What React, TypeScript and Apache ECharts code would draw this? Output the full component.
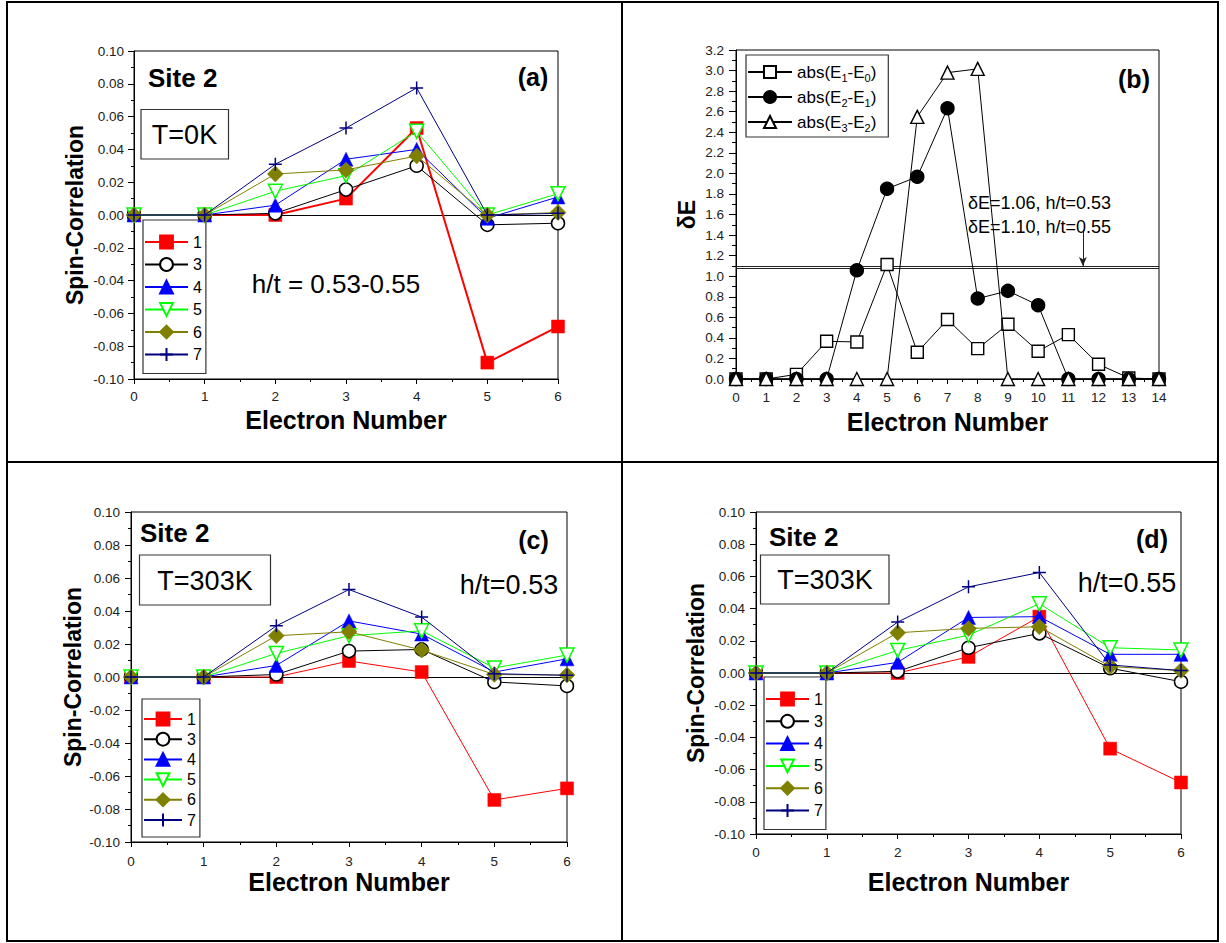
import React, { useEffect, useRef } from 'react';
import * as echarts from 'echarts';

const FONT = '"Liberation Sans", Arial, Helvetica, sans-serif';

// ---------- data ----------
const electrons = [0, 1, 2, 3, 4, 5, 6];
const siteNames = ['1', '3', '4', '5', '6', '7'];

// panel (a) T=0K
const a1 = [0, 0, 0, 0.010, 0.053, -0.090, -0.068];
const a3 = [0, 0, 0.001, 0.0155, 0.030, -0.006, -0.005];
const a4 = [0, 0, 0.006, 0.034, 0.040, -0.002, 0.011];
const a5 = [0, 0, 0.0145, 0.024, 0.051, 0.000, 0.013];
const a6 = [0, 0, 0.025, 0.0275, 0.036, 0.000, 0.0015];
const a7 = [0, 0, 0.031, 0.053, 0.0775, 0.000, 0.001];

// panel (c) T=303K h/t=0.53
const c1 = [0, 0, 0, 0.0097, 0.003, -0.0745, -0.0675];
const c3 = [0, 0, 0.0015, 0.0157, 0.0167, -0.003, -0.0054];
const c4 = [0, 0, 0.007, 0.034, 0.026, 0.003, 0.011];
const c5 = [0, 0, 0.0143, 0.025, 0.028, 0.0055, 0.0133];
const c6 = [0, 0, 0.025, 0.0274, 0.0163, 0.0015, 0.0012];
const c7 = [0, 0, 0.031, 0.053, 0.0363, 0.002, 0.001];

// panel (d) T=303K h/t=0.55
const d1 = [0, 0, 0, 0.010, 0.035, -0.047, -0.068];
const d3 = [0, 0, 0.001, 0.0157, 0.0246, 0.003, -0.0054];
const d4 = [0, 0, 0.0066, 0.0345, 0.035, 0.0116, 0.0116];
const d5 = [0, 0, 0.014, 0.0235, 0.043, 0.0157, 0.0143];
const d6 = [0, 0, 0.025, 0.0277, 0.0287, 0.004, 0.0015];
const d7 = [0, 0, 0.0316, 0.0535, 0.0624, 0.005, 0.0015];

// panel (b) energy gaps
const electronsB = [0, 1, 2, 3, 4, 5, 6, 7, 8, 9, 10, 11, 12, 13, 14];
const gapNames = ['abs(E1-E0)', 'abs(E2-E1)', 'abs(E3-E2)'];
const gapE10 = [0, 0, 0.045, 0.367, 0.36, 1.113, 0.26, 0.578, 0.295, 0.532, 0.27, 0.432, 0.143, 0.01, 0];
const gapE21 = [0, 0, 0, 0, 1.058, 1.85, 1.967, 2.633, 0.782, 0.857, 0.718, 0, 0, 0, 0];
const gapE32 = [0, 0, 0, 0, 0, 0, 2.55, 2.98, 3.016, 0, 0, 0, 0, 0, 0];
const deltaLines = [1.08, 1.10];
const arrowX = 11.48;
const arrowFrom = 1.45;
const arrowTo = 1.10;

// ---------- styles ----------
const siteStyle = [
  { color: '#ff0000', symbol: 'rect', fill: '#ff0000', size: 13, bw: 0.5, rotate: 0 },
  { color: '#000000', symbol: 'circle', fill: '#ffffff', size: 13, bw: 1.5, rotate: 0 },
  { color: '#0000ff', symbol: 'triangle', fill: '#0000ff', size: 14, bw: 0.5, rotate: 0 },
  { color: '#00ff00', symbol: 'triangle', fill: '#ffffff', size: 14, bw: 1.5, rotate: 180 },
  { color: '#808000', symbol: 'diamond', fill: '#808000', size: 16, bw: 0.5, rotate: 0 },
  { color: '#000080', symbol: 'path://M5,0L5,10M0,5L10,5', fill: '#000080', size: 13, bw: 1.5, rotate: 0 },
];

const fmt2 = (v: number) => (Math.abs(v) < 1e-9 ? '0.00' : v.toFixed(2));
const fmt1 = (v: number) => (Math.abs(v) < 1e-9 ? '0.0' : v.toFixed(1));

function spinSeries(idx: number, sets: number[][], redWidth: number) {
  return sets.map((vals, k) => {
    const st = siteStyle[k];
    const s: any = {
      type: 'line',
      name: siteNames[k],
      xAxisIndex: idx,
      yAxisIndex: idx,
      data: electrons.map((x, i) => [x, vals[i]]),
      symbol: st.symbol,
      symbolSize: st.size,
      symbolRotate: st.rotate,
      lineStyle: { color: st.color, width: k === 0 ? redWidth : 1 },
      itemStyle: { color: st.fill, borderColor: st.color, borderWidth: st.bw },
      clip: false,
      silent: true,
      z: 3 + k,
    };
    if (k === 0) {
      s.markLine = {
        silent: true,
        symbol: 'none',
        label: { show: false },
        lineStyle: { color: '#000', width: 1, type: 'solid' },
        data: [{ yAxis: 0 }],
        z: 1,
      };
    }
    return s;
  });
}

function spinX(idx: number, margin: number, nameGap: number) {
  return {
    type: 'value', gridIndex: idx, min: 0, max: 6, interval: 1,
    axisLine: { onZero: false, lineStyle: { color: '#000', width: 1 } },
    axisTick: { show: true, length: 5, lineStyle: { color: '#000' } },
    minorTick: { show: true, splitNumber: 2, length: 3, lineStyle: { color: '#000' } },
    splitLine: { show: false },
    axisLabel: { fontSize: 13.5, color: '#222', margin, fontFamily: FONT },
    name: 'Electron Number', nameLocation: 'middle', nameGap,
    nameTextStyle: { fontSize: 25, fontWeight: 'bold', color: '#000', fontFamily: FONT },
  };
}

function spinY(idx: number, margin: number, nameGap: number) {
  return {
    type: 'value', gridIndex: idx, min: -0.1, max: 0.1, interval: 0.02,
    axisLine: { onZero: false, lineStyle: { color: '#000', width: 1 } },
    axisTick: { show: true, length: 6, lineStyle: { color: '#000' } },
    minorTick: { show: true, splitNumber: 2, length: 3, lineStyle: { color: '#000' } },
    splitLine: { show: false },
    axisLabel: { fontSize: 13.5, color: '#222', margin, fontFamily: FONT, formatter: fmt2 },
    name: 'Spin-Correlation', nameLocation: 'middle', nameGap, nameRotate: 90,
    nameTextStyle: { fontSize: 23, fontWeight: 'bold', color: '#000', fontFamily: FONT },
  };
}

function spinLegend(left: number, top: number, padding: number[], itemWidth: number, itemGap: number) {
  return {
    data: siteNames, orient: 'vertical', left, top, padding, itemWidth, itemHeight: 16, itemGap,
    borderColor: '#333', borderWidth: 1.2, backgroundColor: '#fff', selectedMode: false,
    textStyle: { fontSize: 16, color: '#000', fontFamily: FONT },
  };
}

function txt(text: string, x: number, y: number, size: number, bold: boolean, align = 'left') {
  return {
    type: 'text', x, y, silent: true, z: 100,
    style: {
      text, fill: '#000', font: `${bold ? 'bold ' : ''}${size}px ${FONT}`,
      textAlign: align, textVerticalAlign: 'middle',
    },
  };
}

function box(x: number, y: number, w: number, h: number) {
  return {
    type: 'rect', silent: true, z: 99,
    shape: { x, y, width: w, height: h },
    style: { fill: '#fff', stroke: '#333', lineWidth: 1.2 },
  };
}

function buildOption() {
  const gridBase = { show: true, borderColor: '#000', borderWidth: 1, backgroundColor: 'transparent' };
  const bStyles = [
    { symbol: 'rect', fill: '#ffffff', size: 12 },
    { symbol: 'circle', fill: '#000000', size: 13 },
    { symbol: 'triangle', fill: '#ffffff', size: 13 },
  ];
  const gapSets = [gapE10, gapE21, gapE32];
  const bSeries = gapSets.map((vals, k) => {
    const s: any = {
      type: 'line', name: gapNames[k], xAxisIndex: 1, yAxisIndex: 1,
      data: electronsB.map((x, i) => [x, vals[i]]),
      symbol: bStyles[k].symbol, symbolSize: bStyles[k].size,
      lineStyle: { color: '#000', width: 1 },
      itemStyle: { color: bStyles[k].fill, borderColor: '#000', borderWidth: 1.4 },
      clip: false, silent: true, z: 3 + k,
    };
    if (k === 0) {
      s.markLine = {
        silent: true,
        symbol: 'none',
        label: { show: false },
        lineStyle: { color: '#222', width: 1, type: 'solid' },
        z: 1,
        data: [
          ...deltaLines.map((v) => ({ yAxis: v })),
          [
            { coord: [arrowX, arrowFrom], symbol: 'none' },
            { coord: [arrowX, arrowTo], symbol: 'arrow', symbolSize: [6, 9] },
          ],
        ],
      };
    }
    return s;
  });

  return {
    animation: false,
    backgroundColor: '#fff',
    textStyle: { fontFamily: FONT },
    grid: [
      { ...gridBase, left: 134, top: 51, width: 424, height: 328 },
      { ...gridBase, left: 736, top: 50, width: 423, height: 329 },
      { ...gridBase, left: 131, top: 512, width: 436, height: 330 },
      { ...gridBase, left: 756, top: 512, width: 425, height: 322 },
    ],
    xAxis: [
      spinX(0, 10, 28),
      {
        type: 'value', gridIndex: 1, min: 0, max: 14, interval: 1,
        axisLine: { onZero: false, lineStyle: { color: '#000', width: 1 } },
        axisTick: { show: true, length: 5, lineStyle: { color: '#000' } },
        minorTick: { show: true, splitNumber: 2, length: 3, lineStyle: { color: '#000' } },
        splitLine: { show: false },
        axisLabel: { fontSize: 13.5, color: '#222', margin: 11, fontFamily: FONT },
        name: 'Electron Number', nameLocation: 'middle', nameGap: 30,
        nameTextStyle: { fontSize: 25, fontWeight: 'bold', color: '#000', fontFamily: FONT },
      },
      spinX(2, 12, 27),
      spinX(3, 11, 35),
    ],
    yAxis: [
      spinY(0, 10, 48),
      {
        type: 'value', gridIndex: 1, min: 0, max: 3.2, interval: 0.2,
        axisLine: { onZero: false, lineStyle: { color: '#000', width: 1 } },
        axisTick: { show: true, length: 7, lineStyle: { color: '#000' } },
        minorTick: { show: true, splitNumber: 2, length: 4, lineStyle: { color: '#000' } },
        splitLine: { show: false },
        axisLabel: { fontSize: 13.5, color: '#222', margin: 12, fontFamily: FONT, formatter: fmt1 },
        name: 'δE', nameLocation: 'middle', nameGap: 38, nameRotate: 90,
        nameTextStyle: { fontSize: 23, fontWeight: 'bold', color: '#000', fontFamily: FONT },
      },
      spinY(2, 11, 47),
      spinY(3, 11, 49),
    ],
    legend: [
      spinLegend(143, 220, [14, 4, 11, 1], 43, 6.5),
      {
        data: gapNames, orient: 'vertical', left: 746, top: 55, padding: [6, 12, 4, 1],
        itemWidth: 44, itemHeight: 15, itemGap: 3, selectedMode: false,
        borderColor: '#333', borderWidth: 1.2, backgroundColor: '#fff',
        formatter: (name: string) => name.replace(/E(\d)/g, 'E{s|$1}'),
        textStyle: {
          fontSize: 17, lineHeight: 22, color: '#000', fontFamily: FONT,
          rich: { s: { fontSize: 11, lineHeight: 11, verticalAlign: 'bottom', color: '#000', fontFamily: FONT } },
        },
      },
      spinLegend(142, 699, [12, 4, 9, 1], 38, 4.2),
      spinLegend(764, 677, [14, 3, 11, 1], 43, 6.3),
    ],
    series: [
      ...spinSeries(0, [a1, a3, a4, a5, a6, a7], 2),
      ...bSeries,
      ...spinSeries(2, [c1, c3, c4, c5, c6, c7], 1),
      ...spinSeries(3, [d1, d3, d4, d5, d6, d7], 1),
    ],
    graphic: [
      { type: 'rect', silent: true, z: 50, shape: { x: 7, y: 2, width: 1211, height: 939 }, style: { fill: 'none', stroke: '#000', lineWidth: 2 } },
      { type: 'line', silent: true, z: 50, shape: { x1: 622, y1: 2, x2: 622, y2: 941 }, style: { stroke: '#000', lineWidth: 2 } },
      { type: 'line', silent: true, z: 50, shape: { x1: 7, y1: 462, x2: 1218, y2: 462 }, style: { stroke: '#000', lineWidth: 2 } },
      // (a)
      txt('Site 2', 148, 78, 26, true),
      txt('(a)', 533, 77, 25, true, 'center'),
      box(141, 109.5, 87.5, 49.5),
      txt('T=0K', 184.5, 134.5, 27, false, 'center'),
      txt('h/t = 0.53-0.55', 336, 284, 26, false, 'center'),
      // (b)
      txt('(b)', 1134, 79, 25, true, 'center'),
      txt('δE=1.06, h/t=0.53', 968, 203, 18, false),
      txt('δE=1.10, h/t=0.55', 968, 227, 18, false),
      // (c)
      txt('Site 2', 140, 533, 26, true),
      txt('(c)', 533.5, 540, 25, true, 'center'),
      box(139.5, 555, 131, 50),
      txt('T=303K', 205, 580.5, 27, false, 'center'),
      txt('h/t=0.53', 509, 585, 27, false, 'center'),
      // (d)
      txt('Site 2', 769, 537, 26, true),
      txt('(d)', 1152, 539, 25, true, 'center'),
      box(760.5, 555, 128.5, 49),
      txt('T=303K', 825, 580, 27, false, 'center'),
      txt('h/t=0.55', 1127, 583, 27, false, 'center'),
    ],
  };
}

export default function App() {
  const ref = useRef<HTMLDivElement>(null);
  useEffect(() => {
    if (!ref.current) return;
    const chart = echarts.init(ref.current, undefined, { renderer: 'svg' });
    chart.setOption(buildOption() as any);
    return () => chart.dispose();
  }, []);
  return (
    <div
      ref={ref}
      style={{ position: 'fixed', left: 0, top: 0, width: 1226, height: 943, background: '#fff' }}
    />
  );
}
